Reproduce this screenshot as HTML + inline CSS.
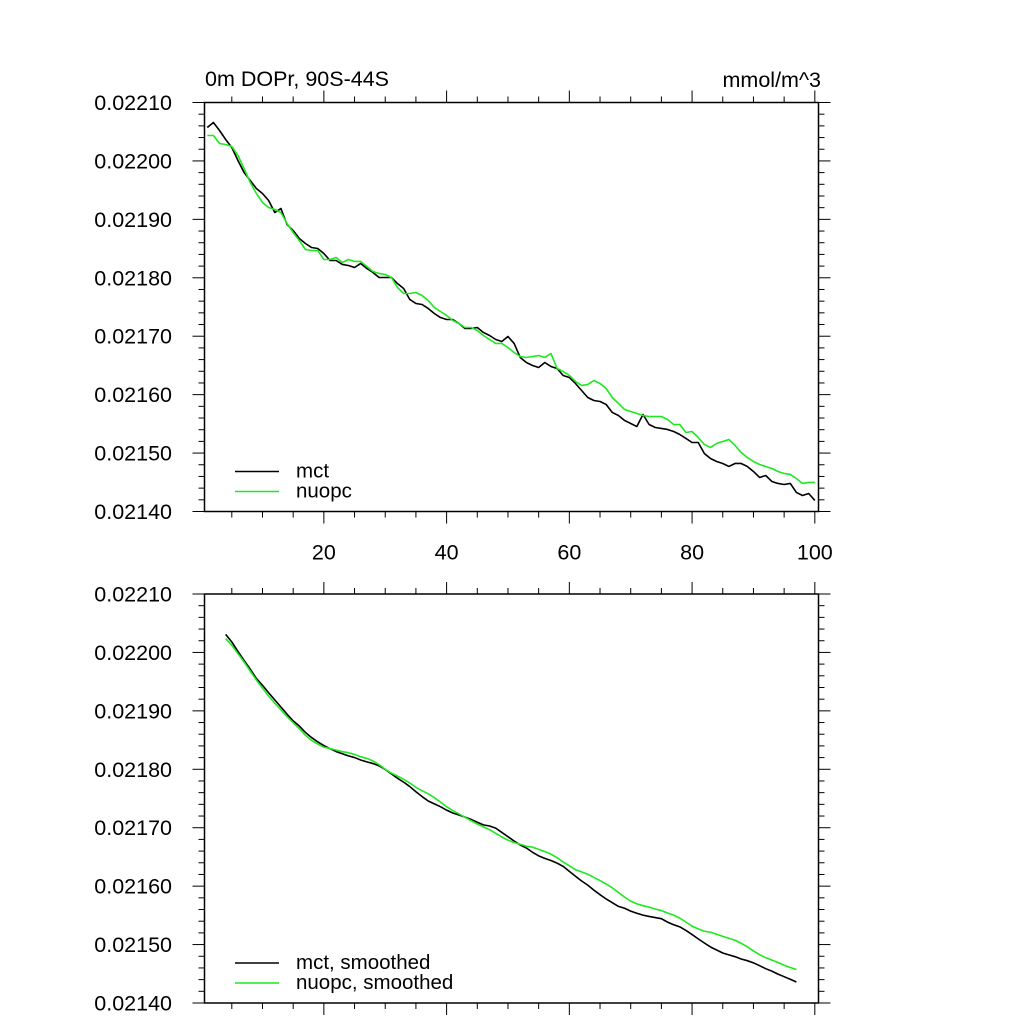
<!DOCTYPE html>
<html><head><meta charset="utf-8"><style>
html,body{margin:0;padding:0;background:#fff;}
svg{display:block;font-family:"Liberation Sans",sans-serif;}
</style></head><body>
<svg id="chart" width="1024" height="1024" viewBox="0 0 1024 1024" xmlns="http://www.w3.org/2000/svg">
<text x="205" y="86" font-size="21.5">0m DOPr, 90S-44S</text>
<text x="821" y="87" font-size="21.5" text-anchor="end">mmol/m^3</text>
</svg>
<script>
const years = Array.from({length:100},(_,i)=>i+1);
const mct = [2205.72,2206.58,2205.21,2203.67,2202.30,2200.07,2198.02,2196.65,2195.28,2194.43,2193.23,2191.17,2191.86,2189.12,2188.09,2186.72,2185.87,2185.18,2185.01,2184.16,2182.96,2182.96,2182.28,2182.10,2181.76,2182.45,2181.59,2180.91,2180.05,2180.05,2180.05,2179.02,2178.17,2176.29,2175.60,2175.43,2174.75,2173.89,2173.20,2172.86,2172.86,2172.18,2171.32,2171.32,2171.49,2170.64,2170.12,2169.44,2169.10,2169.95,2168.76,2166.36,2165.50,2164.99,2164.65,2165.50,2164.82,2164.48,2163.28,2162.94,2161.91,2160.71,2159.51,2159.00,2158.83,2158.32,2156.95,2156.43,2155.58,2155.06,2154.55,2156.60,2154.89,2154.38,2154.21,2154.04,2153.69,2153.18,2152.50,2151.81,2151.81,2149.93,2149.07,2148.56,2148.22,2147.71,2148.22,2148.22,2147.71,2146.85,2145.82,2146.16,2145.14,2144.80,2144.62,2144.80,2143.26,2142.74,2143.08,2141.89].map(v=>v/100000);
const nuopc = [2204.35,2204.35,2202.98,2202.81,2202.47,2200.93,2198.70,2196.31,2194.43,2192.89,2192.03,2191.69,2191.17,2189.29,2187.75,2186.38,2184.84,2184.67,2184.67,2183.13,2183.13,2183.47,2182.62,2183.13,2182.79,2182.79,2181.93,2181.08,2180.74,2180.56,2180.05,2178.34,2177.31,2177.31,2177.48,2176.97,2176.11,2174.92,2174.23,2173.55,2172.69,2172.18,2171.49,2171.49,2170.98,2170.12,2169.44,2168.76,2168.76,2168.07,2167.21,2166.53,2166.36,2166.53,2166.70,2166.36,2167.04,2164.48,2163.96,2163.28,2162.25,2161.57,2161.74,2162.42,2161.91,2161.05,2159.51,2158.49,2157.46,2157.12,2156.78,2156.43,2156.26,2156.26,2156.26,2155.75,2154.89,2154.89,2153.52,2153.69,2152.67,2151.47,2150.96,2151.64,2151.98,2152.33,2151.30,2150.10,2149.25,2148.56,2148.05,2147.71,2147.36,2146.85,2146.51,2146.34,2145.65,2144.80,2144.97,2144.97].map(v=>v/100000);
const yTicks = [0.02140,0.02150,0.02160,0.02170,0.02180,0.02190,0.02200,0.02210];
const yTickLabels = ["0.02140","0.02150","0.02160","0.02170","0.02180","0.02190","0.02200","0.02210"];
const xTicks = [20,40,60,80,100];
const xTickLabels = ["20","40","60","80","100"];
const smoothWindow = 7;

const NS="http://www.w3.org/2000/svg";
const svg=document.getElementById('chart');
function el(tag,attrs,parent){const e=document.createElementNS(NS,tag);for(const k in attrs)e.setAttribute(k,attrs[k]);(parent||svg).appendChild(e);return e;}
const L=204.5,R=818.5,XMIN=0.55,XMAX=100.6,YMIN=0.0214,YMAX=0.0221;
function smooth(a,w){const h=(w-1)/2,out=[];for(let i=h;i<a.length-h;i++){let s=0;for(let j=i-h;j<=i+h;j++)s+=a[j];out.push({x:years[i],v:s/w});}return out;}

function panel(top,bottom,name,series,legend,showXLabels){
  const g=el('g',{});
  
  
  const sx=x=>L+(x-XMIN)/(XMAX-XMIN)*(R-L);
  const sy=v=>bottom-(v-YMIN)/(YMAX-YMIN)*(bottom-top);
  const tk=el('g',{stroke:'#000','stroke-width':1},g);
  
  
  for(let x=5;x<=100;x+=5){const X=sx(x),len=(x%20===0)?12:6;
    el('line',{x1:X,x2:X,y1:bottom,y2:bottom+len},tk);
    el('line',{x1:X,x2:X,y1:top,y2:top-len},tk);}
  for(let k=0;k<=35;k++){const Y=bottom-k*(bottom-top)/35,len=(k%5===0)?12:6;
    el('line',{x1:L,x2:L-len,y1:Y,y2:Y},tk);
    el('line',{x1:R,x2:R+len,y1:Y,y2:Y},tk);}
  yTicks.forEach((v,i)=>{const t=el('text',{x:172,y:sy(v)+7.5,'font-size':21.5,'text-anchor':'end'},g);t.textContent=yTickLabels[i];
    
    });
  if(showXLabels){xTicks.forEach((x,i)=>{const t=el('text',{x:sx(x),y:bottom+48,'font-size':21.5,'text-anchor':'middle'},g);t.textContent=xTickLabels[i];
    
    });}
  series.forEach(s=>{
    const d=s.pts.map((p,i)=>(i?'L':'M')+sx(p.x).toFixed(2)+','+sy(p.v).toFixed(2)).join(' ');
    const p=el('path',{d:d,fill:'none',stroke:s.color,'stroke-width':1.6,'stroke-linejoin':'round'},g);
    
    
  });
  const box=el('rect',{x:L,y:top,width:R-L,height:bottom-top,fill:'none',stroke:'#000','stroke-width':1.5},g);
  
  
  legend.forEach((lg,i)=>{const Y=bottom-40+i*20;
    const lg0=el('g',{},g);
    
    
    el('line',{x1:235,x2:279,y1:Y,y2:Y,stroke:lg.color,'stroke-width':1.6},lg0);
    const t=el('text',{x:296,y:Y+6,'font-size':20.5},lg0);t.textContent=lg.label;});
}
panel(102.5,511.5,'raw-panel',[
  {name:'mct-line',color:'#000',pts:mct.map((v,i)=>({x:years[i],v}))},
  {name:'nuopc-line',color:'#1ee81e',pts:nuopc.map((v,i)=>({x:years[i],v}))}],
  [{label:'mct',color:'#000'},{label:'nuopc',color:'#1ee81e'}],true);
panel(594,1003,'smoothed-panel',[
  {name:'mct-smoothed-line',color:'#000',pts:smooth(mct,smoothWindow)},
  {name:'nuopc-smoothed-line',color:'#1ee81e',pts:smooth(nuopc,smoothWindow)}],
  [{label:'mct, smoothed',color:'#000'},{label:'nuopc, smoothed',color:'#1ee81e'}],false);
</script>
</body></html>
